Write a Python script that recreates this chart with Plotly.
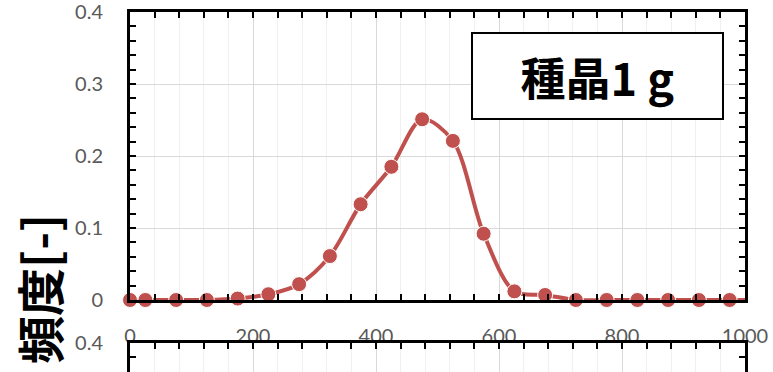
import plotly.graph_objects as go

# ---- data ----
size_x = [0, 25, 75, 125, 175, 225, 275, 325, 375, 425, 475, 525, 575, 625, 675,
          725, 775, 825, 875, 925, 975, 1000]
freq = [0, 0, 0, 0, 0.002, 0.008, 0.022, 0.061, 0.133, 0.185, 0.251, 0.221, 0.092,
        0.012, 0.007, 0, 0, 0, 0, 0, 0, 0]
x_ticks = [0, 200, 400, 600, 800, 1000]
y_ticks = [0, 0.1, 0.2, 0.3, 0.4]
y_ticktext = ["0", "0.1", "0.2", "0.3", "0.4"]
y_title = "頻度[-]"
box_label = "種晶1 g"

RED = "#C0504D"
GRAY = "#595959"
W, H = 773, 372
ML, MR, MT, MB = 130, 28, 12, 0
PW, PH = W - ML - MR, H - MT - MB

def px_x(p):
    return (p - ML) / PW

def px_y(p):
    return (H - MB - p) / PH

marker_sizes = [15] * (len(size_x) - 1) + [0]

fig = go.Figure()
fig.add_trace(go.Scatter(
    x=size_x, y=freq, mode="lines+markers",
    line=dict(color=RED, width=4, shape="spline", smoothing=0.9),
    marker=dict(color=RED, size=marker_sizes, opacity=1),
    cliponaxis=False, xaxis="x", yaxis="y", showlegend=False,
))

tickfont = dict(family="Lato", size=20, color=GRAY)
minor_x = dict(dtick=40, showgrid=True, gridcolor="#F0F0F0", gridwidth=1,
               ticks="inside", ticklen=6, tickwidth=2, tickcolor="black")
minor_y = dict(tick0=0, dtick=0.02, showgrid=False,
               ticks="inside", ticklen=6, tickwidth=2, tickcolor="black")

fig.update_layout(
    width=W, height=H,
    margin=dict(l=ML, r=MR, t=MT, b=MB),
    paper_bgcolor="white", plot_bgcolor="white",
    xaxis=dict(range=[0, 1000], tickvals=x_ticks, domain=[0, 1], anchor="y",
               showgrid=True, gridcolor="#D9D9D9", gridwidth=1,
               showline=True, linecolor="black", linewidth=3, mirror="allticks",
               ticks="inside", ticklen=6, tickwidth=2, tickcolor="black",
               minor=minor_x, tickfont=tickfont, ticklabelstandoff=16,
               ticklabeloverflow="allow",
               zeroline=False, automargin=False),
    yaxis=dict(range=[0, 0.4], tickvals=y_ticks, ticktext=y_ticktext,
               domain=[px_y(300), 1], anchor="x",
               showgrid=True, gridcolor="#D9D9D9", gridwidth=1,
               showline=True, linecolor="black", linewidth=3, mirror="allticks",
               ticks="inside", ticklen=6, tickwidth=2, tickcolor="black",
               minor=minor_y, tickfont=tickfont, ticklabelstandoff=20,
               ticklabeloverflow="allow",
               zeroline=False, automargin=False),
    xaxis2=dict(range=[0, 1000], tickvals=x_ticks, domain=[0, 1], anchor="y2",
                side="top", showgrid=True, gridcolor="#D9D9D9", gridwidth=1,
                showline=True, linecolor="black", linewidth=3, mirror=False,
                ticks="inside", ticklen=6, tickwidth=2, tickcolor="black",
                minor=minor_x, showticklabels=False, zeroline=False,
                automargin=False),
    yaxis2=dict(range=[0.4 - 29 / 720, 0.4], tickvals=[0.4], ticktext=["0.4"],
                domain=[0, px_y(343)], anchor="x2", showgrid=False,
                showline=True, linecolor="black", linewidth=3, mirror="allticks",
                ticks="inside", ticklen=6, tickwidth=2, tickcolor="black",
                minor=minor_y, tickfont=tickfont, ticklabelstandoff=20,
                ticklabeloverflow="allow",
                zeroline=False, automargin=False),
)

# empty trace so the lower (partially visible) panel is drawn
fig.add_trace(go.Scatter(x=[None], y=[None], xaxis="x2", yaxis="y2",
                         showlegend=False, hoverinfo="skip"))

annotations = []
# label box
annotations.append(dict(
    text=f"<b>{box_label}</b>", xref="paper", yref="paper",
    x=px_x(597.5), y=px_y(76), xanchor="center", yanchor="middle",
    showarrow=False, width=247, height=82,
    bordercolor="black", borderwidth=2, bgcolor="white",
    font=dict(family="Noto Sans CJK JP", size=45, color="black"),
))
# y axis title
annotations.append(dict(
    text=f"<b>{y_title}</b>", xref="paper", yref="paper",
    x=px_x(38), y=px_y(289), xanchor="center", yanchor="middle",
    textangle=-90, showarrow=False,
    font=dict(family="Noto Sans CJK JP", size=48, color="black"),
))
# tick labels of the panel above (cut off at the top edge)
for v in x_ticks:
    annotations.append(dict(
        text=str(v), xref="x", yref="paper", x=v, y=px_y(2),
        xanchor="center", yanchor="bottom", showarrow=False,
        font=tickfont,
    ))
fig.update_layout(annotations=annotations)

fig.write_html("out.html", config={"displayModeBar": False},
               post_script="document.body.style.margin='0';")
